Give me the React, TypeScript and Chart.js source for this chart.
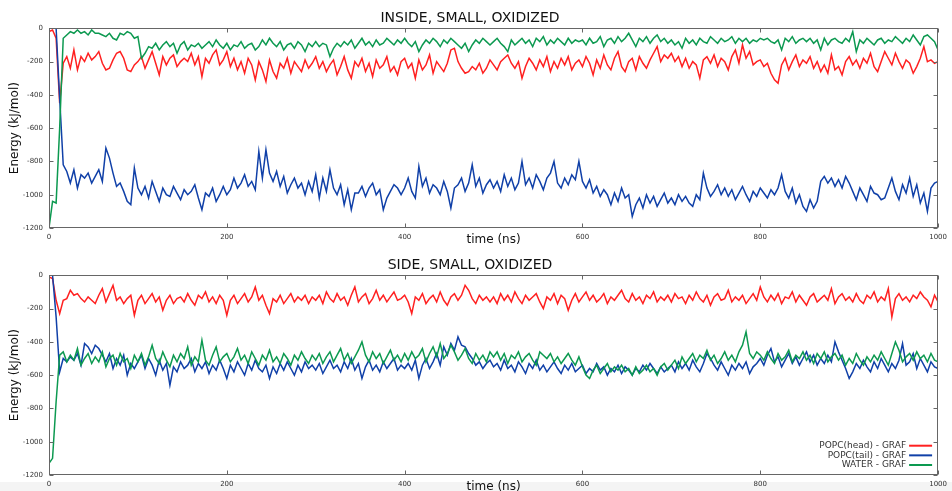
import React, { useEffect, useRef } from "react";
import { Chart, registerables } from "chart.js";

Chart.register(...registerables);

// ---------- DATA ----------
const TIME_NS = [
  0, 4, 8, 12, 16, 20, 24, 28, 32, 36, 40, 44, 48, 52, 56, 60, 64, 68, 72, 76, 80, 84, 88, 92, 96,
  100, 104, 108, 112, 116, 120, 124, 128, 132, 136, 140, 144, 148, 152, 156, 160, 164, 168, 172, 176, 180, 184, 188, 192, 196,
  200, 204, 208, 212, 216, 220, 224, 228, 232, 236, 240, 244, 248, 252, 256, 260, 264, 268, 272, 276, 280, 284, 288, 292, 296,
  300, 304, 308, 312, 316, 320, 324, 328, 332, 336, 340, 344, 348, 352, 356, 360, 364, 368, 372, 376, 380, 384, 388, 392, 396,
  400, 404, 408, 412, 416, 420, 424, 428, 432, 436, 440, 444, 448, 452, 456, 460, 464, 468, 472, 476, 480, 484, 488, 492, 496,
  500, 504, 508, 512, 516, 520, 524, 528, 532, 536, 540, 544, 548, 552, 556, 560, 564, 568, 572, 576, 580, 584, 588, 592, 596,
  600, 604, 608, 612, 616, 620, 624, 628, 632, 636, 640, 644, 648, 652, 656, 660, 664, 668, 672, 676, 680, 684, 688, 692, 696,
  700, 704, 708, 712, 716, 720, 724, 728, 732, 736, 740, 744, 748, 752, 756, 760, 764, 768, 772, 776, 780, 784, 788, 792, 796,
  800, 804, 808, 812, 816, 820, 824, 828, 832, 836, 840, 844, 848, 852, 856, 860, 864, 868, 872, 876, 880, 884, 888, 892, 896,
  900, 904, 908, 912, 916, 920, 924, 928, 932, 936, 940, 944, 948, 952, 956, 960, 964, 968, 972, 976, 980, 984, 988, 992, 996, 1000,
];

const INSIDE_HEAD = [
  -20, -10, -60, -450, -210, -170, -240, -130, -250, -170, -200, -150, -190, -170, -140, -210, -250, -240, -190, -150, -140, -180, -250, -260, -220,
  -200, -170, -240, -190, -140, -210, -280, -170, -220, -180, -160, -230, -200, -180, -200, -150, -220, -170, -290, -180, -210, -160, -130, -220, -190,
  -140, -230, -180, -250, -200, -270, -180, -220, -310, -200, -250, -320, -190, -260, -300, -210, -240, -180, -270, -200, -230, -260, -190, -240, -210,
  -170, -240, -200, -260, -220, -190, -280, -230, -170, -250, -300, -200, -230, -180, -260, -210, -290, -190, -240, -220, -170, -260, -230, -280, -200,
  -180, -240, -210, -300, -190, -250, -220, -160, -270, -200, -230, -260, -210, -130, -120, -200, -240, -270, -260, -230, -250, -210, -270, -240, -190,
  -220, -250, -200, -180, -160, -210, -240, -200, -300, -230, -180, -210, -250, -190, -230, -170, -260, -200, -240, -180, -220, -170, -250, -210, -190,
  -230, -170, -210, -280, -190, -240, -160, -220, -250, -180, -140, -230, -260, -200, -180, -250, -170, -210, -240, -190, -150, -110, -200, -160, -180,
  -150, -200, -170, -230, -180, -240, -200, -220, -300, -190, -170, -210, -160, -230, -180, -200, -250, -170, -130, -210, -100, -180, -140, -220, -200,
  -190, -230, -210, -270, -310, -330, -220, -180, -250, -200, -160, -230, -190, -210, -170, -240, -200, -260, -220, -270, -160, -250, -230, -280, -200,
  -170, -220, -190, -240, -180, -210, -150, -230, -260, -200, -140, -180, -220, -150, -200, -240, -190, -210, -270, -230, -180, -110, -200, -190, -210, -200,
];

const INSIDE_TAIL = [
  0, 0, 0, -420, -820, -860, -930, -850, -960, -880, -900, -870, -930, -890, -850, -920, -720, -780, -870, -950, -930, -980, -1040, -1060, -840,
  -960, -1000, -950, -1020, -920, -980, -1040, -960, -1000, -1010, -950, -990, -1030, -970, -1000, -980, -940, -1020, -1090, -990, -1010, -960, -1040, -1000, -950,
  -1000, -970, -900, -960, -930, -880, -950, -920, -970, -740, -900, -730, -870, -920, -860, -950, -890, -990, -940, -900, -960, -930, -1000, -920, -980,
  -880, -1020, -900, -980, -850, -960, -1000, -940, -1060, -970, -1090, -990, -990, -950, -1010, -960, -930, -1000, -970, -1090, -1020, -980, -940, -960, -1000,
  -960, -900, -980, -1020, -830, -950, -900, -990, -940, -960, -1000, -920, -980, -1080, -960, -940, -900, -980, -930, -820, -950, -900, -990, -940, -910,
  -960, -920, -980, -880, -950, -900, -970, -930, -800, -940, -900, -960, -880, -920, -970, -900, -870, -800, -930, -960, -900, -940, -880, -910, -800,
  -920, -960, -910, -990, -950, -1010, -970, -1000, -1060, -990, -1040, -960, -1020, -1000, -1130, -1060, -1020, -1080, -1000, -1050, -1010, -1070, -1030, -990, -1050,
  -1020, -1060, -1000, -1040, -1010, -1050, -1070, -1000, -1030, -870, -960, -1010, -980, -940, -1000, -960, -1010, -970, -1030, -990, -950, -1000, -1040, -980, -1010,
  -960, -990, -1020, -970, -1000, -960, -880, -980, -1020, -960, -1050, -1000, -1070, -1100, -1030, -1080, -1040, -920, -890, -930, -900, -950, -910, -960, -890,
  -930, -980, -1030, -960, -1000, -1040, -950, -990, -1000, -1030, -1020, -960, -900, -980, -1030, -940, -990, -900, -1010, -940, -1050, -990, -1100, -960, -930, -920,
];

const INSIDE_WATER = [
  -1200, -1040, -1050, -600, -60, -40, -20, -30, -10, -30, -20, -40, -10, -30, -30, -40, -50, -30, -60, -70, -30, -40, -20, -30, -60,
  -50, -180, -150, -110, -120, -90, -130, -100, -80, -110, -90, -150, -100, -80, -130, -100, -110, -90, -120, -100, -80, -110, -70, -100, -120,
  -90, -130, -100, -110, -80, -120, -100, -90, -130, -110, -70, -100, -60, -90, -110, -80, -130, -100, -90, -120, -80, -100, -140, -90, -110,
  -80, -110, -90, -100, -170, -120, -90, -110, -80, -100, -70, -120, -90, -60, -100, -80, -110, -70, -100, -90, -60, -80, -100, -70, -90,
  -60, -90, -110, -80, -140, -100, -70, -90, -60, -80, -110, -70, -90, -60, -80, -100, -120, -90, -140, -100, -70, -90, -60, -80, -100,
  -80, -60, -90, -110, -140, -70, -100, -80, -60, -90, -70, -110, -60, -80, -50, -100, -70, -90, -60, -80, -100, -60, -90, -70, -80,
  -70, -100, -60, -90, -80, -50, -110, -70, -60, -90, -50, -80, -60, -30, -70, -110, -60, -80, -50, -90, -60, -40, -80, -60, -90,
  -70, -100, -80, -120, -60, -90, -70, -100, -60, -80, -90, -50, -70, -90, -60, -80, -70, -50, -90, -60, -80, -60, -90, -70, -80,
  -60, -70, -60, -80, -90, -70, -130, -60, -80, -50, -90, -70, -60, -80, -60, -90, -70, -130, -60, -100, -70, -60, -80, -90, -60,
  -80, -20, -140, -70, -90, -60, -80, -100, -70, -60, -90, -70, -80, -50, -70, -90, -60, -80, -40, -70, -100, -50, -40, -60, -80, -130,
];

const SIDE_HEAD = [
  -10, -20, -150, -230, -150, -140, -90, -120, -110, -140, -160, -130, -150, -170, -120, -80, -160, -110, -60, -150, -130, -170, -140, -120, -240,
  -150, -120, -170, -140, -110, -160, -130, -210, -150, -120, -170, -140, -130, -160, -110, -150, -180, -120, -140, -100, -160, -130, -170, -120, -150,
  -240, -150, -120, -170, -140, -110, -160, -130, -70, -150, -120, -180, -230, -140, -160, -120, -170, -140, -110, -160, -130, -150, -120, -170, -130,
  -150, -120, -170, -100, -140, -160, -110, -150, -130, -180, -120, -70, -160, -130, -110, -170, -140, -90, -150, -120, -160, -130, -100, -150, -140,
  -120, -160, -230, -130, -150, -110, -170, -140, -120, -160, -100, -150, -180, -130, -110, -150, -120, -60, -90, -140, -170, -120, -150, -130, -160,
  -130, -170, -110, -150, -120, -160, -100, -140, -170, -120, -150, -130, -110, -160, -200, -130, -150, -110, -170, -120, -140, -210, -150, -110, -160,
  -130, -100, -150, -120, -160, -140, -110, -170, -130, -150, -120, -90, -140, -160, -110, -150, -130, -170, -120, -140, -100, -160, -130, -150, -120,
  -160, -110, -140, -130, -170, -120, -150, -100, -140, -160, -120, -180, -130, -110, -150, -140, -90, -160, -130, -150, -120, -170, -140, -110, -150,
  -70, -130, -160, -120, -150, -110, -170, -130, -140, -100, -160, -120, -150, -180, -130, -110, -160, -140, -120, -150, -80, -170, -130, -110, -150,
  -130, -160, -110, -150, -170, -120, -140, -100, -160, -130, -150, -80, -250, -140, -110, -150, -130, -160, -120, -140, -100, -130, -150, -190, -120, -160,
];

const SIDE_TAIL = [
  0, 0, -250, -580, -500, -520, -490, -510, -470, -540, -410, -430, -470, -420, -440, -480, -520, -470, -560, -500, -540, -480, -600, -530, -560,
  -520, -480, -560, -500, -540, -600, -510, -570, -530, -660, -550, -580, -520, -560, -540, -500, -580, -530, -560, -520, -590, -540, -570, -510, -560,
  -620, -540, -580, -520, -560, -600, -530, -570, -510, -560, -580, -540, -620, -550, -590, -530, -570, -520, -560, -600, -540, -580, -520, -560, -540,
  -570, -530, -590, -550, -510, -560, -540, -580, -520, -560, -500, -570, -530, -620, -550, -510, -570, -540, -580, -520, -560, -530, -500, -570, -540,
  -560, -530, -570, -510, -620, -540, -500, -560, -520, -470, -540, -430, -480, -410, -450, -370, -420, -430, -470, -500, -540, -520, -560, -530, -510,
  -550, -530, -570, -510, -560, -540, -580, -520, -550, -590, -530, -560, -510, -570, -540, -580, -550, -520, -560, -590, -540, -570, -530, -580, -560,
  -540, -590, -560, -580, -530, -570, -550, -600, -560, -580, -540, -590, -550, -570, -600, -560, -580, -540, -570, -530, -560, -590, -550, -580, -560,
  -540, -580, -520, -560, -530, -570, -510, -550, -580, -530, -470, -500, -540, -570, -520, -560, -600, -540, -570, -530, -560, -520, -590, -550, -530,
  -500, -540, -480, -440, -520, -490, -550, -510, -470, -530, -490, -540, -500, -460, -520, -480, -540, -500, -530, -480, -520, -400, -460, -510, -560,
  -620, -580, -530, -560, -510, -550, -580, -520, -560, -500, -540, -580, -530, -560, -510, -410, -540, -520, -470, -560, -500, -540, -580, -520, -550, -560,
];

const SIDE_WATER = [
  -1130, -1100, -760, -480, -460, -520, -480, -510, -440, -540, -500, -470, -530, -490, -520, -460, -550, -500, -480, -540, -470, -520, -500, -560, -480,
  -520, -470, -540, -490, -420, -500, -530, -460, -510, -550, -480, -520, -470, -500, -430, -540, -490, -520, -390, -510, -540, -480, -430, -520, -490,
  -470, -520, -490, -440, -510, -480, -530, -460, -500, -540, -480, -510, -450, -520, -490, -530, -470, -500, -540, -480, -510, -460, -500, -530, -480,
  -510, -470, -530, -490, -460, -520, -480, -440, -510, -470, -530, -490, -450, -400, -480, -520, -460, -500, -470, -530, -490, -450, -510, -480, -520,
  -470, -510, -460, -500, -480, -440, -520, -470, -430, -490, -410, -500, -470, -420, -460, -510, -480, -440, -500, -530, -470, -510, -480, -520, -460,
  -490, -460, -510, -470, -530, -480, -500, -460, -520, -490, -470, -510, -540, -460, -480, -500, -470, -520, -490, -530, -500, -470, -510, -540, -490,
  -550, -600, -620, -570, -540, -590, -560, -530, -580, -550, -570, -540, -580, -560, -600, -550, -590, -570, -540, -580, -560, -600, -550, -530, -570,
  -540, -510, -560, -490, -530, -500, -470, -520, -480, -500, -450, -510, -480, -530, -500, -460, -510, -480, -520, -460, -420, -340, -470, -500, -460,
  -480, -510, -460, -500, -530, -470, -510, -490, -450, -520, -480, -500, -460, -510, -480, -530, -470, -500, -460, -520, -490, -470, -510, -480, -540,
  -500, -530, -470, -510, -540, -490, -520, -480, -510, -460, -500, -540, -470, -400, -450, -520, -490, -470, -510, -460, -500, -480, -520, -470, -510, -520,
];

const SERIES_LABELS = ["POPC(head) - GRAF", "POPC(tail) - GRAF", "WATER - GRAF"];
const X_TICKS = [0, 200, 400, 600, 800, 1000];
const Y_TICKS = [-1200, -1000, -800, -600, -400, -200, 0];

// ---------- STYLE ----------
const FONT = "'DejaVu Sans', sans-serif";
const RED = "#ff2020";
const BLUE = "#1040a8";
const GREEN = "#0c9950";
const FRAME = "#666666";

const framePlugin = {
  id: "gnuFrame",
  afterDatasetsDraw(chart: any) {
    const { ctx, chartArea: a, scales } = chart;
    const L = Math.round(a.left) + 0.5;
    const R = Math.round(a.right) - 0.5;
    const T = Math.round(a.top) + 0.5;
    const B = Math.round(a.bottom) - 0.5;
    ctx.save();
    ctx.strokeStyle = FRAME;
    ctx.lineWidth = 1;
    ctx.strokeRect(L, T, R - L, B - T);
    ctx.beginPath();
    for (const t of scales.x.ticks) {
      const x = Math.round(scales.x.getPixelForValue(t.value)) + 0.5;
      ctx.moveTo(x, B);
      ctx.lineTo(x, B - 4);
      ctx.moveTo(x, T);
      ctx.lineTo(x, T + 4);
    }
    for (const t of scales.y.ticks) {
      const y = Math.round(scales.y.getPixelForValue(t.value)) + 0.5;
      ctx.moveTo(L, y);
      ctx.lineTo(L + 4, y);
      ctx.moveTo(R, y);
      ctx.lineTo(R - 4, y);
    }
    ctx.stroke();
    ctx.restore();
  },
};

const insideLegendPlugin = {
  id: "insideLegend",
  afterDraw(chart: any) {
    const { ctx, chartArea: a } = chart;
    ctx.save();
    ctx.font = `9px ${FONT}`;
    ctx.textAlign = "right";
    ctx.textBaseline = "middle";
    chart.data.datasets.forEach((d: any, i: number) => {
      const y = a.bottom - 29.3 + i * 9.65;
      ctx.fillStyle = "#333333";
      ctx.fillText(d.label, a.right - 32, y);
      ctx.strokeStyle = d.borderColor;
      ctx.lineWidth = 2;
      ctx.beginPath();
      ctx.moveTo(a.right - 29, y);
      ctx.lineTo(a.right - 6, y);
      ctx.stroke();
    });
    ctx.restore();
  },
};

function toPoints(values: number[]) {
  return TIME_NS.map((t, i) => ({ x: t, y: values[i] }));
}

type PanelProps = {
  title: string;
  head: number[];
  tail: number[];
  water: number[];
  legend: boolean;
};

function Panel({ title, head, tail, water, legend }: PanelProps) {
  const ref = useRef<HTMLCanvasElement>(null);
  useEffect(() => {
    const canvas = ref.current;
    if (!canvas) return;
    const line = (label: string, values: number[], color: string, order: number) => ({
      label,
      data: toPoints(values),
      borderColor: color,
      backgroundColor: color,
      borderWidth: 1.5,
      pointRadius: 0,
      tension: 0,
      fill: false,
      order,
    });
    const chart = new Chart(canvas, {
      type: "line",
      data: {
        datasets: [
          line(SERIES_LABELS[0], head, RED, 2),
          line(SERIES_LABELS[1], tail, BLUE, 1),
          line(SERIES_LABELS[2], water, GREEN, 0),
        ],
      },
      options: {
        responsive: false,
        animation: false,
        events: [],
        layout: { padding: { left: 0, right: 12, top: 0, bottom: 0 } },
        plugins: {
          legend: { display: false },
          tooltip: { enabled: false },
          title: {
            display: true,
            text: title,
            color: "#111111",
            font: { family: FONT, size: 14, weight: "normal" },
            padding: { top: 9.6, bottom: 1.9 },
          },
        },
        scales: {
          x: {
            type: "linear",
            min: 0,
            max: 1000,
            afterBuildTicks: (s: any) => {
              s.ticks = X_TICKS.map((v) => ({ value: v }));
            },
            ticks: {
              color: "#333333",
              font: { family: FONT, size: 7 },
              padding: 5,
              maxRotation: 0,
              autoSkip: false,
              callback: (v: any) => String(v),
            },
            grid: { display: false, drawTicks: false },
            border: { display: false },
            title: {
              display: true,
              text: "time (ns)",
              color: "#111111",
              font: { family: FONT, size: 12 },
              padding: { top: 0, bottom: 0 },
            },
            afterFit: (s: any) => {
              s.height = 19;
            },
          },
          y: {
            type: "linear",
            min: -1200,
            max: 0,
            afterBuildTicks: (s: any) => {
              s.ticks = Y_TICKS.map((v) => ({ value: v }));
            },
            ticks: {
              color: "#333333",
              font: { family: FONT, size: 7 },
              padding: 6,
              autoSkip: false,
              callback: (v: any) => String(v),
            },
            grid: { display: false, drawTicks: false },
            border: { display: false },
            title: {
              display: true,
              text: "Energy (kJ/mol)",
              color: "#111111",
              font: { family: FONT, size: 12 },
              padding: { top: 8, bottom: 0 },
            },
            afterFit: (s: any) => {
              s.width = 49;
            },
          },
        },
      } as any,
      plugins: legend ? [framePlugin, insideLegendPlugin] : [framePlugin],
    });
    return () => chart.destroy();
  }, [title, head, tail, water, legend]);
  return <canvas ref={ref} width={952} height={247} style={{ display: "block", width: 952, height: 247 }} />;
}

export default function App() {
  return (
    <div
      style={{
        position: "fixed",
        left: 0,
        top: 0,
        width: 952,
        height: 491,
        overflow: "hidden",
        background: "#ffffff",
      }}
    >
      <div style={{ position: "absolute", left: 0, top: 482, width: 952, height: 9, background: "#f4f4f4" }} />
      <div style={{ position: "absolute", left: 0, top: 0 }}>
        <Panel title="INSIDE, SMALL, OXIDIZED" head={INSIDE_HEAD} tail={INSIDE_TAIL} water={INSIDE_WATER} legend={false} />
      </div>
      <div style={{ position: "absolute", left: 0, top: 247 }}>
        <Panel title="SIDE, SMALL, OXIDIZED" head={SIDE_HEAD} tail={SIDE_TAIL} water={SIDE_WATER} legend={true} />
      </div>
    </div>
  );
}
